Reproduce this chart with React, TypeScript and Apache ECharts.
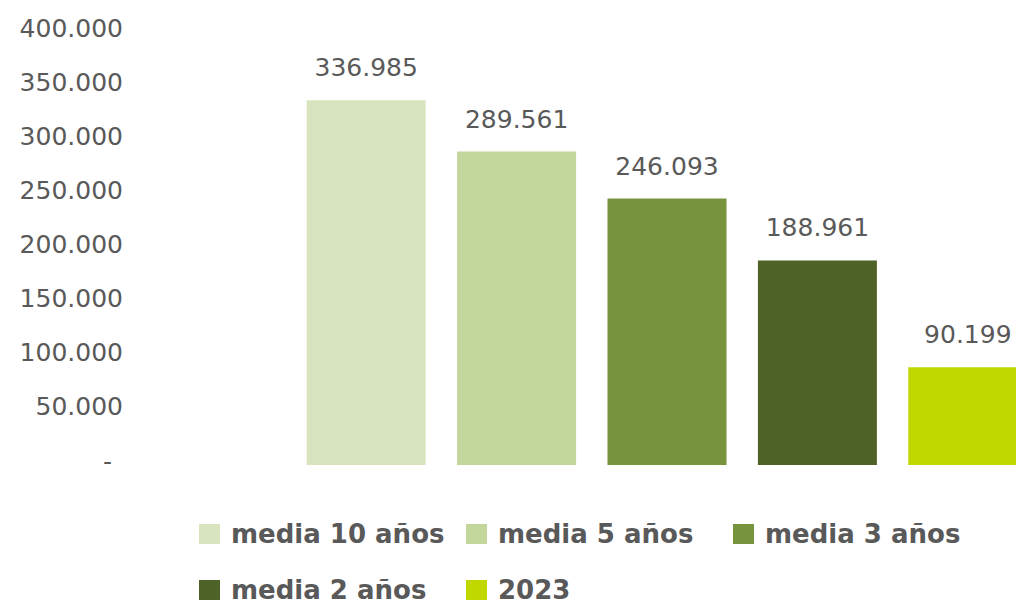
import React, { useEffect, useRef } from "react";
import * as echarts from "echarts";

const seriesNames = ["media 10 años", "media 5 años", "media 3 años", "media 2 años", "2023"];
const seriesValues = [336985, 289561, 246093, 188961, 90199];
const seriesColors = ["#D7E4BD", "#C3D69B", "#77933C", "#4F6228", "#C0D800"];
const yTicks = { min: 0, max: 400000, interval: 50000 };

const fmt = (v: number) => String(Math.round(v)).replace(/\B(?=(\d{3})+(?!\d))/g, ".");

const legendPos = [
  { left: 199, top: 521 },
  { left: 466, top: 521 },
  { left: 733, top: 521 },
  { left: 199, top: 577 },
  { left: 466, top: 577 },
];

export default function App() {
  const ref = useRef<HTMLDivElement>(null);
  useEffect(() => {
    if (!ref.current) return;
    const chart = echarts.init(ref.current, null, { renderer: "svg" });
    const font = "DejaVu Sans";
    const txt = "#595959";
    chart.setOption({
      animation: false,
      backgroundColor: "#ffffff",
      textStyle: { fontFamily: font },
      grid: { left: 291, top: 32, width: 752, height: 433, containLabel: false },
      legend: seriesNames.map((n, i) => ({
        show: true,
        data: [n],
        left: legendPos[i].left,
        top: legendPos[i].top,
        padding: 0,
        orient: "horizontal",
        icon: "rect",
        itemWidth: 21,
        itemHeight: 20,
        selectedMode: false,
        textStyle: {
          fontFamily: font,
          fontSize: 26,
          fontWeight: "bold",
          color: txt,
          lineHeight: 24,
          padding: [0, 0, 0, 6],
        },
      })),
      xAxis: {
        type: "category",
        data: seriesNames,
        show: false,
      },
      yAxis: {
        type: "value",
        min: yTicks.min,
        max: yTicks.max,
        interval: yTicks.interval,
        axisLine: { show: false },
        axisTick: { show: false },
        splitLine: { show: false },
        axisLabel: {
          margin: 168,
          fontFamily: font,
          fontSize: 25,
          color: txt,
          padding: [0, 0, 8, 0],
          formatter: (v: number) => (v === 0 ? "{d|-}" : fmt(v)),
          rich: { d: { fontFamily: font, fontSize: 25, color: txt, padding: [0, 11, 0, 0] } },
        },
      },
      series: seriesNames.map((n, i) => ({
        name: n,
        type: "bar",
        barWidth: 119,
        barGap: "-100%",
        itemStyle: { color: seriesColors[i] },
        data: seriesValues.map((v, j) => (j === i ? v : "-")),
        label: {
          show: true,
          position: "top",
          distance: 20,
          fontFamily: font,
          fontSize: 25,
          color: txt,
          formatter: (p: any) => fmt(p.value),
        },
      })),
    });
    return () => chart.dispose();
  }, []);
  return (
    <div style={{ position: "fixed", left: 0, top: 0, width: 1016, height: 606, overflow: "hidden", background: "#fff" }}>
      <div ref={ref} style={{ width: 1080, height: 606 }} />
    </div>
  );
}
